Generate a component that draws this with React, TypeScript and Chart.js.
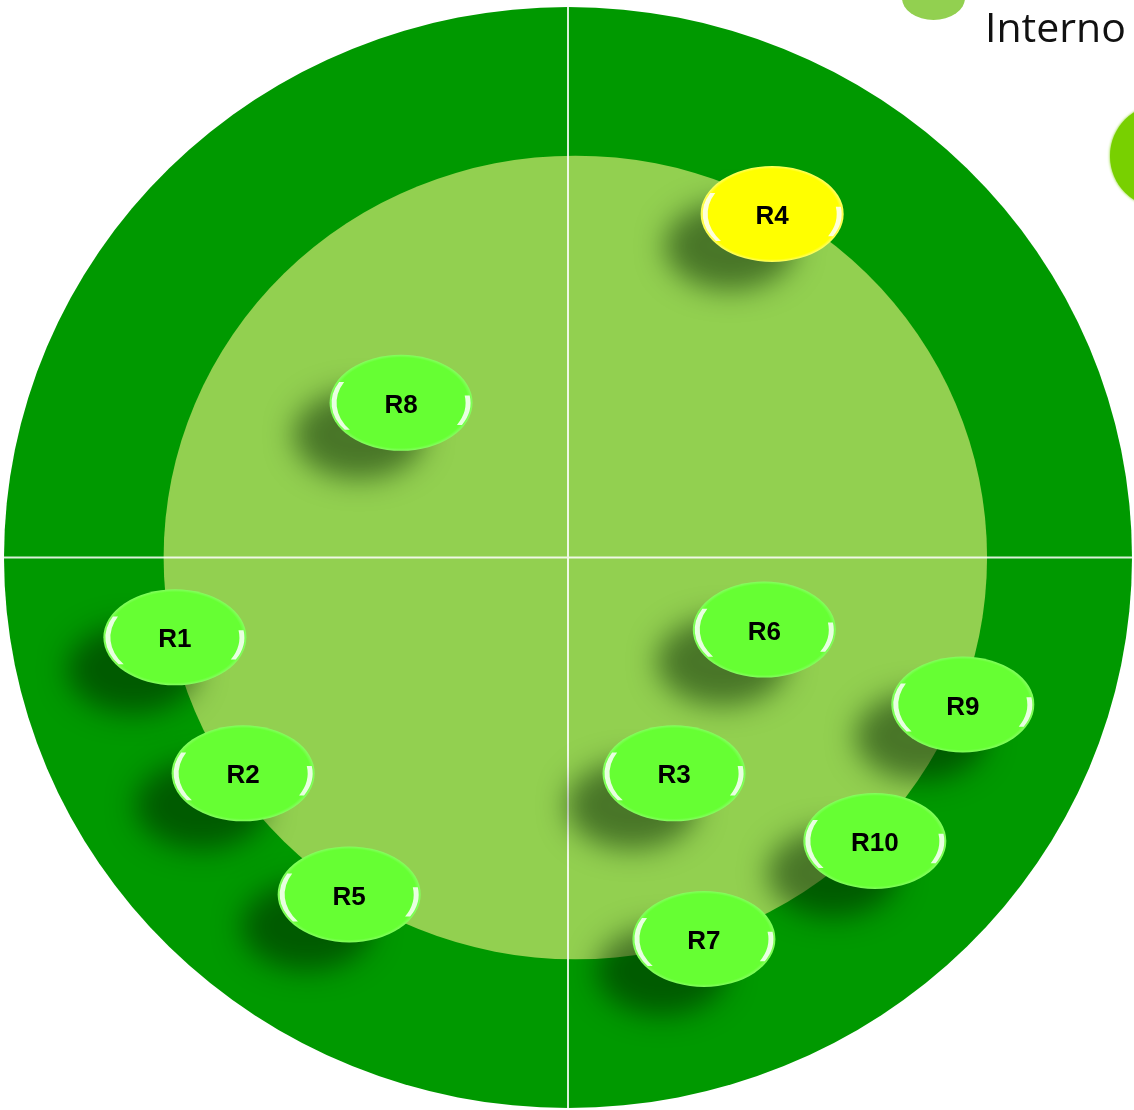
import React, { useEffect, useRef } from "react";
import { Chart, registerables } from "chart.js";

Chart.register(...registerables);

// Risk labels and their positions on the map (x: -100..100, y: -100..100)
const riskLabels = ["R1", "R2", "R3", "R4", "R5", "R6", "R7", "R8", "R9", "R10"];
const riskX = [-69.7, -57.6, 18.8, 36.2, -38.8, 34.8, 24.1, -29.6, 70.0, 54.4];
const riskY = [-14.5, -39.2, -39.2, 62.4, -61.2, -13.1, -69.3, 28.1, -26.7, -51.5];
const highlightedRisks = ["R4"];

// Zones of the map (radius on the same scale)
const zoneNames = ["Externo", "Interno"];
const zoneRadius = [100, 73];
const zoneCenterX = [0, 1.3];
const legendLabels = ["Interno"];

const OUTER = "#009900";
const INNER = "#92D050";
const BUBBLE = "#66FF33";
const BUBBLE_HI = "#FFFF00";

function ellipsePath(ctx: CanvasRenderingContext2D, cx: number, cy: number, rx: number, ry: number) {
  ctx.beginPath();
  ctx.ellipse(cx, cy, rx, ry, 0, 0, Math.PI * 2);
  ctx.closePath();
}

function crescent(ctx: CanvasRenderingContext2D, cx: number, cy: number, rx: number, ry: number, a1: number, a2: number, shift: number) {
  ctx.beginPath();
  ctx.ellipse(cx, cy, rx, ry, 0, a1, a2);
  ctx.ellipse(cx + shift, cy, rx, ry, 0, a2, a1, true);
  ctx.closePath();
}

const mapPlugin = {
  id: "riskMap",
  beforeDatasetsDraw(chart: any) {
    const { ctx, scales } = chart;
    const xs = scales.x;
    const ys = scales.y;
    const colors = [OUTER, INNER];
    ctx.save();
    zoneNames.forEach((_, i) => {
      const cx = xs.getPixelForValue(zoneCenterX[i]);
      const cy = ys.getPixelForValue(0);
      const rx = Math.abs(xs.getPixelForValue(zoneCenterX[i] + zoneRadius[i]) - cx);
      const ry = Math.abs(ys.getPixelForValue(zoneRadius[i]) - cy);
      ellipsePath(ctx, cx, cy, rx, ry);
      ctx.fillStyle = colors[i];
      ctx.fill();
    });
    // cross lines
    const x0 = xs.getPixelForValue(0);
    const y0 = ys.getPixelForValue(0);
    ctx.strokeStyle = "rgba(255,255,255,0.85)";
    ctx.lineWidth = 2;
    ctx.beginPath();
    ctx.moveTo(x0, ys.getPixelForValue(100));
    ctx.lineTo(x0, ys.getPixelForValue(-100));
    ctx.moveTo(xs.getPixelForValue(-100), y0);
    ctx.lineTo(xs.getPixelForValue(100), y0);
    ctx.stroke();
    ctx.restore();
  },
  afterDatasetsDraw(chart: any) {
    const { ctx } = chart;
    const meta = chart.getDatasetMeta(0);
    const rx = 71.5;
    const ry = 48;
    // shadows first
    ctx.save();
    meta.data.forEach((el: any) => {
      const off = 10000;
      ctx.shadowColor = "rgba(0,30,0,0.5)";
      ctx.shadowBlur = 28;
      ctx.shadowOffsetX = -off - 42;
      ctx.shadowOffsetY = 32;
      ellipsePath(ctx, el.x + off, el.y, rx - 6, ry - 4);
      ctx.fillStyle = "#000";
      ctx.fill();
    });
    ctx.restore();
    meta.data.forEach((el: any, i: number) => {
      const label = riskLabels[i];
      const hi = highlightedRisks.includes(label);
      const base = hi ? BUBBLE_HI : BUBBLE;
      const rim = hi ? "#FFFF66" : "#85FF60";
      ctx.save();
      ctx.translate(el.x, el.y);
      ctx.scale(1, ry / rx);
      const g = ctx.createRadialGradient(0, 0, 0, 0, 0, rx);
      g.addColorStop(0, base);
      g.addColorStop(0.94, base);
      g.addColorStop(1, rim);
      ctx.beginPath();
      ctx.arc(0, 0, rx, 0, Math.PI * 2);
      ctx.fillStyle = g;
      ctx.fill();
      ctx.restore();

      // glossy highlights (crescents)
      ctx.save();
      ctx.fillStyle = "rgba(255,255,255,0.85)";
      crescent(ctx, el.x, el.y, rx - 2, ry - 2, Math.PI * 0.8, Math.PI * 1.15, 5);
      ctx.fill();
      crescent(ctx, el.x, el.y, rx - 2, ry - 2, -Math.PI * 0.05, Math.PI * 0.16, -5);
      ctx.fill();
      ctx.restore();

      ctx.save();
      ctx.fillStyle = "#000";
      ctx.font = "bold 26px 'Liberation Sans', Arial, sans-serif";
      ctx.textAlign = "center";
      ctx.textBaseline = "middle";
      ctx.fillText(label, el.x, el.y + 3);
      ctx.restore();
    });
  },
  afterDraw(chart: any) {
    const { ctx, width } = chart;
    ctx.save();
    // legend marker (partially visible)
    ellipsePath(ctx, width - 200.5, -2, 31.5, 22);
    ctx.fillStyle = INNER;
    ctx.fill();
    ctx.fillStyle = "#111";
    ctx.font = "41px 'Open Sans', sans-serif";
    ctx.textAlign = "left";
    ctx.textBaseline = "alphabetic";
    ctx.fillText(legendLabels[0], width - 149, 42);
    // decorative partial disc at the right edge
    ctx.shadowColor = "#78D000";
    ctx.shadowBlur = 3;
    ctx.beginPath();
    ctx.arc(width + 28, 156, 52, 0, Math.PI * 2);
    ctx.fillStyle = "#78D000";
    ctx.fill();
    ctx.restore();
  },
};

export default function App() {
  const canvasRef = useRef<HTMLCanvasElement | null>(null);
  useEffect(() => {
    if (!canvasRef.current) return;
    const points = riskLabels.map((_, i) => ({ x: riskX[i], y: riskY[i] }));
    const chart = new Chart(canvasRef.current, {
      type: "scatter",
      data: {
        labels: riskLabels,
        datasets: [
          {
            label: "Riesgos",
            data: points,
            pointRadius: 0,
            pointHoverRadius: 0,
          },
        ],
      },
      options: {
        responsive: false,
        animation: false,
        layout: { padding: { left: 4, right: 2, top: 7, bottom: 2 } },
        scales: {
          x: { type: "linear", min: -100, max: 100, display: false },
          y: { type: "linear", min: -100, max: 100, display: false },
        },
        plugins: {
          legend: { display: false },
          tooltip: { enabled: false },
        },
      },
      plugins: [mapPlugin],
    });
    return () => chart.destroy();
  }, []);
  return (
    <div style={{ position: "absolute", left: 0, top: 0, width: 1134, height: 1110, background: "#fff" }}>
      <canvas ref={canvasRef} width={1134} height={1110} style={{ display: "block", width: 1134, height: 1110 }} />
    </div>
  );
}
